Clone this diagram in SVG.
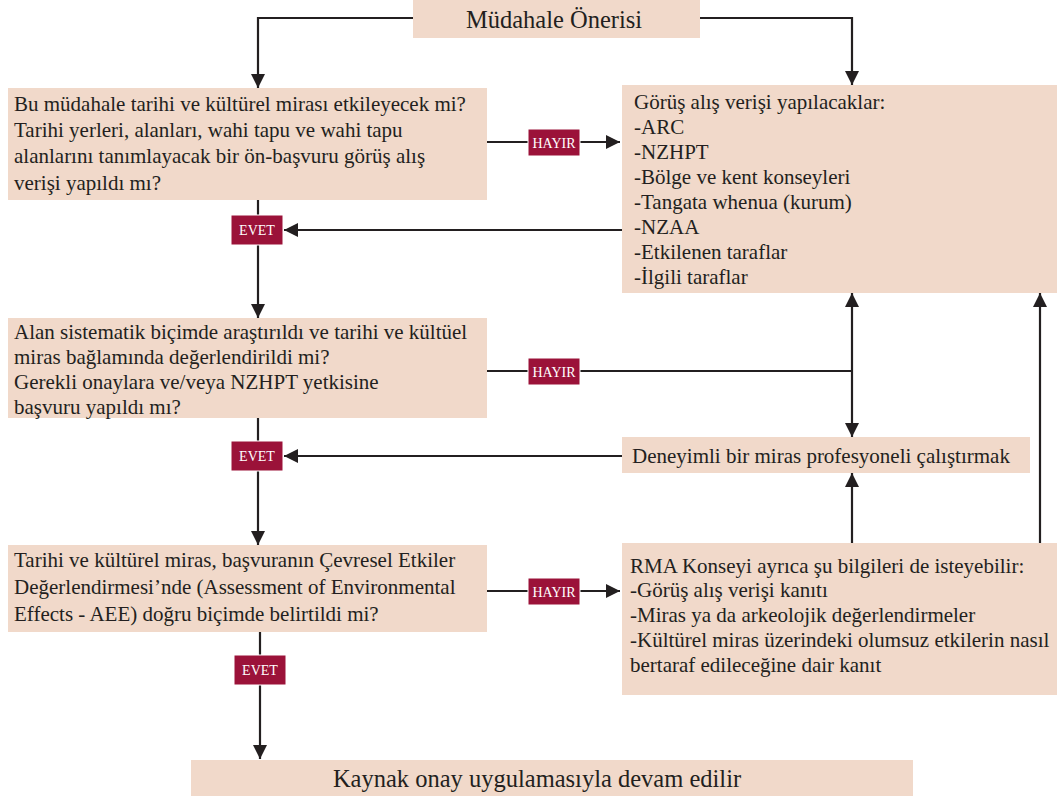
<svg xmlns="http://www.w3.org/2000/svg" width="1060" height="796" viewBox="0 0 1060 796">
<style>
.box{fill:#f1d9ca}
.t{font-family:"Liberation Serif","Times New Roman",serif;font-size:21px;fill:#231f20}
.big{font-family:"Liberation Serif","Times New Roman",serif;font-size:24.5px;fill:#231f20}
.lab{fill:#9b1239;stroke:#ffffff;stroke-width:1}
.lt{font-family:"Liberation Serif","Times New Roman",serif;font-size:14px;fill:#ffffff;text-anchor:middle}
.ln{fill:none;stroke:#231f20;stroke-width:2.2}
</style>
<defs>
<marker id="ah" viewBox="0 0 10 10" refX="10" refY="5" markerWidth="14" markerHeight="14" markerUnits="userSpaceOnUse" orient="auto">
<path d="M0,0 L10,5 L0,10 z" fill="#231f20"/>
</marker>
</defs>
<g id="connectors">
<path class="ln" d="M413,18 H258 V88" marker-end="url(#ah)"/>
<path class="ln" d="M700,18 H852 V85" marker-end="url(#ah)"/>
<path class="ln" d="M487,142 H620" marker-end="url(#ah)"/>
<path class="ln" d="M622,230 H284" marker-end="url(#ah)"/>
<path class="ln" d="M258,200 V318" marker-end="url(#ah)"/>
<path class="ln" d="M487,371 H852"/>
<path class="ln" d="M852,371 V293" marker-end="url(#ah)"/>
<path class="ln" d="M852,371 V437" marker-end="url(#ah)"/>
<path class="ln" d="M622,456 H284" marker-end="url(#ah)"/>
<path class="ln" d="M258,418 V545" marker-end="url(#ah)"/>
<path class="ln" d="M487,591 H620" marker-end="url(#ah)"/>
<path class="ln" d="M852,543 V473" marker-end="url(#ah)"/>
<path class="ln" d="M1040,543 V293" marker-end="url(#ah)"/>
<path class="ln" d="M260,632 V759" marker-end="url(#ah)"/>
</g>
<g id="labels">
<g id="hayir1"><rect class="lab" x="528" y="129" width="52" height="27"/><text class="lt" x="554" y="147.5">HAYIR</text></g>
<g id="evet1"><rect class="lab" x="231" y="215" width="52" height="30"/><text class="lt" x="257" y="235">EVET</text></g>
<g id="hayir2"><rect class="lab" x="528" y="358" width="52" height="27"/><text class="lt" x="554" y="376.5">HAYIR</text></g>
<g id="evet2"><rect class="lab" x="231" y="441" width="52" height="30"/><text class="lt" x="257" y="461">EVET</text></g>
<g id="hayir3"><rect class="lab" x="528" y="578" width="52" height="27"/><text class="lt" x="554" y="596.5">HAYIR</text></g>
<g id="evet3"><rect class="lab" x="234" y="655" width="52" height="30"/><text class="lt" x="260" y="675">EVET</text></g>
</g>
<g id="n-oneri"><rect class="box" x="413" y="0" width="287" height="38"/><text class="big" x="554" y="28" text-anchor="middle">Müdahale Önerisi</text></g>
<g id="n-q1"><rect class="box" x="8" y="88" width="479" height="112"/>
<text class="t"><tspan x="14" y="111">Bu müdahale tarihi ve kültürel mirası etkileyecek mi?</tspan><tspan x="14" y="137">Tarihi yerleri, alanları, wahi tapu ve wahi tapu</tspan><tspan x="14" y="163">alanlarını tanımlayacak bir ön-başvuru görüş alış</tspan><tspan x="14" y="190">verişi yapıldı mı?</tspan></text></g>
<g id="n-gorus"><rect class="box" x="622" y="85" width="435" height="208"/>
<text class="t"><tspan x="634" y="109">Görüş alış verişi yapılacaklar:</tspan><tspan x="634" y="134">-ARC</tspan><tspan x="634" y="159">-NZHPT</tspan><tspan x="634" y="184">-Bölge ve kent konseyleri</tspan><tspan x="634" y="209">-Tangata whenua (kurum)</tspan><tspan x="634" y="234">-NZAA</tspan><tspan x="634" y="259">-Etkilenen taraflar</tspan><tspan x="634" y="284">-İlgili taraflar</tspan></text></g>
<g id="n-q2"><rect class="box" x="8" y="318" width="479" height="100"/>
<text class="t"><tspan x="14" y="339">Alan sistematik biçimde araştırıldı ve tarihi ve kültüel</tspan><tspan x="14" y="364">miras bağlamında değerlendirildi mi?</tspan><tspan x="14" y="389">Gerekli onaylara ve/veya NZHPT yetkisine</tspan><tspan x="14" y="414">başvuru yapıldı mı?</tspan></text></g>
<g id="n-deneyimli"><rect class="box" x="622" y="437" width="408" height="36"/>
<text class="t" x="632" y="463">Deneyimli bir miras profesyoneli çalıştırmak</text></g>
<g id="n-q3"><rect class="box" x="8" y="545" width="479" height="87"/>
<text class="t"><tspan x="14" y="567">Tarihi ve kültürel miras, başvuranın Çevresel Etkiler</tspan><tspan x="14" y="594">Değerlendirmesi’nde (Assessment of Environmental</tspan><tspan x="14" y="621">Effects - AEE) doğru biçimde belirtildi mi?</tspan></text></g>
<g id="n-rma"><rect class="box" x="622" y="543" width="435" height="152"/>
<text class="t"><tspan x="630" y="573">RMA Konseyi ayrıca şu bilgileri de isteyebilir:</tspan><tspan x="630" y="597">-Görüş alış verişi kanıtı</tspan><tspan x="630" y="622">-Miras ya da arkeolojik değerlendirmeler</tspan><tspan x="630" y="647">-Kültürel miras üzerindeki olumsuz etkilerin nasıl</tspan><tspan x="630" y="672">bertaraf edileceğine dair kanıt</tspan></text></g>
<g id="n-kaynak"><rect class="box" x="191" y="760" width="722" height="36"/><text class="big" x="537" y="787" text-anchor="middle">Kaynak onay uygulamasıyla devam edilir</text></g>
</svg>
